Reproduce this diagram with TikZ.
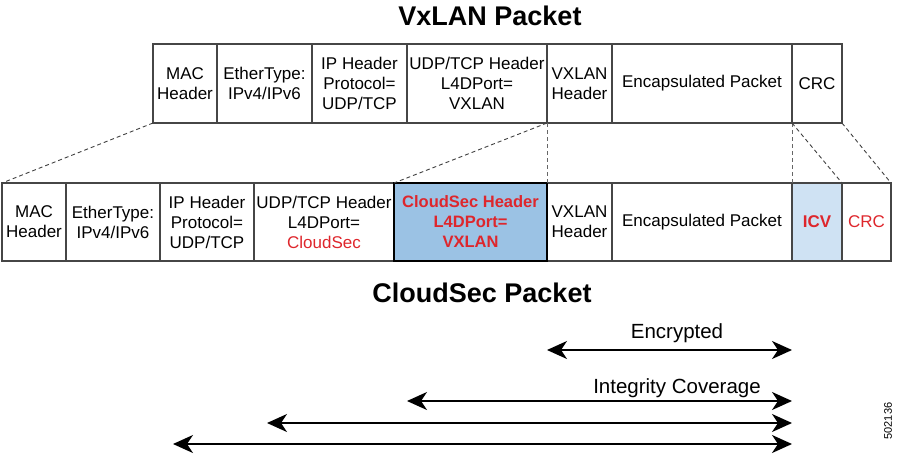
\documentclass[tikz,border=0pt]{standalone}
\usepackage{fontspec}
\setmainfont{Liberation Sans}
\definecolor{cshdrblue}{RGB}{155, 194, 228}
\definecolor{icvblue}{RGB}{207, 226, 243}
\definecolor{secred}{RGB}{222, 38, 44}
\definecolor{boxgray}{RGB}{70, 70, 70}
\usetikzlibrary{arrows.meta, positioning}

\begin{document}
\begin{tikzpicture}[x=1pt, y=-1pt,
  field/.style={draw=boxgray, line width=1.1pt, anchor=north west, inner sep=0pt,
    outer sep=0pt, align=center, font=\fontsize{17}{20}\selectfont},
  zoomline/.style={black!75, line width=0.9pt, dash pattern=on 4pt off 3pt},
  span/.style={{Stealth[length=20pt, width=18pt, inset=6pt]}-{Stealth[length=20pt, width=18pt, inset=6pt]},
    line width=2pt},
  title/.style={anchor=base, font=\fontsize{27}{30}\selectfont\bfseries},
  spanlabel/.style={anchor=base, font=\fontsize{20.5}{23}\selectfont}]
  \useasboundingbox (0, 0) rectangle (897, 456);

  % VxLAN packet
  \node[title] (vxtitle) at (490, 25) {VxLAN Packet};
  \node[field, minimum width=64pt, minimum height=79pt] (tmac) at (153, 44) {MAC\\Header};
  \node[field, minimum width=95pt, minimum height=79pt] (teth) at (217, 44) {EtherType:\\IPv4/IPv6};
  \node[field, minimum width=95pt, minimum height=79pt] (tip) at (312, 44) {IP Header\\Protocol=\\UDP/TCP};
  \node[field, minimum width=140pt, minimum height=79pt] (tudp) at (407, 44) {UDP/TCP Header\\L4DPort=\\VXLAN};
  \node[field, minimum width=65pt, minimum height=79pt] (tvx) at (547, 44) {VXLAN\\Header};
  \node[field, minimum width=180pt, minimum height=79pt] (tenc) at (612, 44) {Encapsulated Packet};
  \node[field, minimum width=50pt, minimum height=79pt] (tcrc) at (792, 44) {CRC};

  % CloudSec packet
  \node[field, minimum width=64pt, minimum height=78pt] (bmac) at (2, 183) {MAC\\Header};
  \node[field, minimum width=94pt, minimum height=78pt] (beth) at (66, 183) {EtherType:\\IPv4/IPv6};
  \node[field, minimum width=94pt, minimum height=78pt] (bip) at (160, 183) {IP Header\\Protocol=\\UDP/TCP};
  \node[field, minimum width=140pt, minimum height=78pt] (budp) at (254, 183) {UDP/TCP Header\\L4DPort=\\\textcolor{secred}{CloudSec}};
  \node[field, minimum width=65pt, minimum height=78pt] (bvx) at (547, 183) {VXLAN\\Header};
  \node[field, minimum width=180pt, minimum height=78pt] (benc) at (612, 183) {Encapsulated Packet};
  \node[field, minimum width=50pt, minimum height=78pt, fill=icvblue, text=secred, font=\fontsize{17}{20}\selectfont\bfseries] (bicv) at (792, 183) {ICV};
  \node[field, minimum width=49pt, minimum height=78pt, text=secred] (bcrc) at (842, 183) {CRC};
  \node[field, minimum width=153pt, minimum height=78pt, fill=cshdrblue, draw=black, line width=2.2pt,
    text=secred, font=\fontsize{16.5}{20}\selectfont\bfseries] (bcs) at (394, 183) {CloudSec Header\\L4DPort=\\VXLAN};
  \node[title] (cstitle) at (482, 302) {CloudSec Packet};

  % zoom lines
  \draw[zoomline] (tmac.south west) -- (bmac.north west);
  \draw[zoomline] (tudp.south east) -- (bcs.north west);
  \draw[zoomline, black!60] (tvx.south west) -- (bvx.north west);
  \draw[zoomline, black!60] (tcrc.south west) -- (bicv.north west);
  \draw[zoomline] (tcrc.south west) -- (bcrc.north west);
  \draw[zoomline] (tcrc.south east) -- (bcrc.north east);

  % coverage arrows
  \coordinate (encL) at (547, 350);
  \coordinate (encR) at (792, 350);
  \coordinate (intL) at (407, 401);
  \coordinate (intR) at (792, 401);
  \coordinate (hdrL) at (267, 423);
  \coordinate (hdrR) at (792, 423);
  \coordinate (allL) at (173, 444);
  \coordinate (allR) at (792, 444);
  \node[spanlabel] (enclbl) at (677, 338) {Encrypted};
  \node[spanlabel] (intlbl) at (677, 393) {Integrity Coverage};
  \draw[span] (encL) -- (encR);
  \draw[span] (intL) -- (intR);
  \draw[span] (hdrL) -- (hdrR);
  \draw[span] (allL) -- (allR);

  \node[rotate=90, font=\fontsize{11}{13}\selectfont] (figid) at (888, 421) {502136};
\end{tikzpicture}
\end{document}
